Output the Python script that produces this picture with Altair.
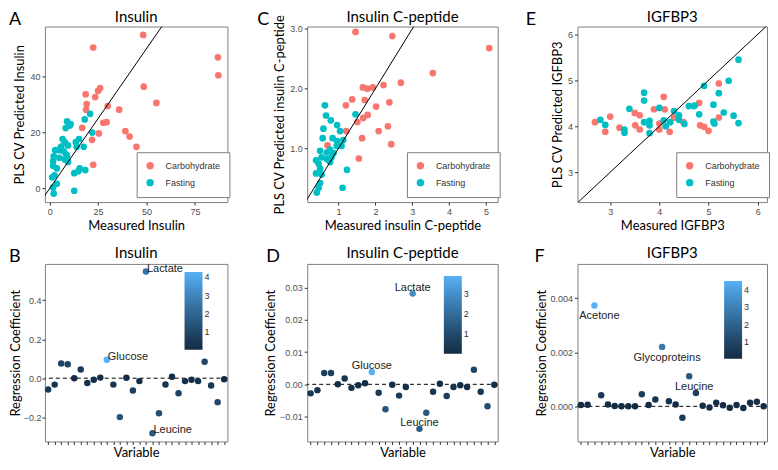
import altair as alt
import pandas as pd

SALMON = "#F8766D"
TEAL = "#00BFC4"

# ---------------- Panel A: Insulin ----------------
ax_carb = [22.5, 48.3, 86.9, 87.1, 48.6, 26.1, 25.0, 23.5, 18.6, 19.1, 18.8, 55.1,
           30.0, 35.9, 27.7, 29.4, 16.8, 39.1, 41.3, 25.4, 21.9, 44.8, 22.5, 5.5]
ay_carb = [50.4, 54.9, 46.9, 40.5, 36.4, 35.9, 34.9, 32.7, 33.7, 30.2, 28.2, 30.6,
           29.5, 28.2, 23.5, 23.7, 21.7, 20.5, 18.6, 19.7, 17.4, 14.9, 8.5, 14.5]
ax_fast = [9.0, 8.3, 10.3, 10.8, 18.1, 20.9, 22.0, 6.7, 7.8, 9.5, 5.1, 2.9, 7.3, 8.6,
           2.1, 1.8, 1.8, 3.7, 7.8, 9.0, 13.5, 13.9, 17.6, 15.2, 15.5, 18.4, 12.7, 14.8,
           2.5, 1.3, 3.7, 1.8, 2.1, 12.7, 6.0, 5.0, 9.5]
ay_fast = [24.0, 21.6, 22.5, 23.0, 24.7, 26.7, 20.0, 17.7, 16.6, 15.4, 13.7, 13.7, 13.3,
           12.1, 11.5, 9.8, 8.1, 7.2, 10.4, 11.5, 16.6, 14.9, 14.9, 17.7, 7.2, 6.6, 5.5,
           6.2, 4.7, 4.0, 1.7, 0.4, -1.8, -0.8, 15.0, 11.0, 9.5]

# ---------------- Panel C: Insulin C-peptide ----------------
cx_carb = [1.46, 2.46, 5.09, 3.56, 2.69, 2.22, 1.66, 1.78, 1.93, 1.37, 1.71, 1.20,
           2.02, 2.38, 1.79, 1.67, 1.51, 1.21, 2.09, 2.34, 1.64, 2.43, 1.55, 0.70]
cy_carb = [2.95, 2.88, 2.68, 2.26, 2.10, 2.06, 2.02, 2.00, 2.02, 1.82, 1.81, 1.72,
           1.70, 1.77, 1.56, 1.51, 1.44, 1.29, 1.29, 1.37, 1.17, 1.07, 0.83, 1.05]
cx_fast = [0.63, 0.66, 0.79, 1.46, 0.59, 0.96, 1.04, 0.57, 0.84, 0.96, 1.13, 1.08, 0.77,
           0.68, 0.50, 0.54, 0.39, 0.46, 0.68, 0.81, 0.86, 0.50, 0.39, 0.54, 0.50, 0.46,
           0.41, 1.23, 1.11, 0.77, 0.95]
cy_fast = [1.72, 1.55, 1.47, 1.57, 1.33, 1.39, 1.29, 1.17, 1.17, 1.12, 1.14, 1.04, 0.98,
           0.93, 0.96, 0.85, 0.80, 0.74, 0.82, 0.85, 0.92, 0.66, 0.58, 0.56, 0.42, 0.34,
           0.26, 0.64, 0.34, 0.77, 1.04]

# ---------------- Panel E: IGFBP3 ----------------
ex_carb = [2.69, 2.90, 3.00, 3.19, 3.50, 3.60, 3.51, 3.60, 3.89, 4.00, 4.09, 4.11,
           4.00, 4.21, 4.30, 4.49, 4.81, 4.83, 4.91, 5.00, 5.21, 5.21]
ey_carb = [4.09, 3.88, 4.21, 3.97, 4.29, 4.24, 4.02, 3.93, 4.37, 3.93, 4.64, 4.37,
           4.06, 3.88, 4.19, 4.09, 4.51, 4.02, 3.99, 3.90, 4.93, 4.19]
ex_fast = [2.80, 2.90, 3.39, 3.29, 3.29, 3.69, 3.69, 3.69, 3.80, 3.80, 3.80, 4.00, 4.09,
           4.13, 4.22, 4.30, 4.40, 4.40, 4.51, 4.60, 4.70, 4.72, 4.81, 4.91, 5.10, 5.10,
           5.12, 5.21, 5.41, 5.31, 5.51, 5.61, 5.61]
ey_fast = [4.14, 4.03, 4.38, 3.93, 3.86, 4.73, 4.56, 4.09, 4.12, 4.02, 3.85, 4.40, 4.13,
           4.00, 4.09, 4.33, 4.24, 4.14, 4.05, 4.44, 4.44, 4.45, 4.26, 4.88, 4.47, 4.10,
           4.06, 4.72, 4.99, 4.30, 4.23, 5.45, 4.07]

# ---------------- Regression coefficient panels ----------------
variables = ["V1", "V2", "Acetone", "V4", "V5", "V6", "V7", "V8", "V9", "Glucose",
             "V11", "V12", "Glycoproteins", "V14", "V15", "Lactate", "Leucine", "V18",
             "V19", "V20", "V21", "V22", "V23", "V24", "V25", "V26", "V27", "V28"]

b_coef = [-0.058, -0.033, 0.075, 0.072, 0.0, 0.045, -0.025, -0.008, 0.003, 0.095,
          -0.033, -0.2, 0.002, -0.063, -0.015, 0.548, -0.283, -0.18, -0.032, 0.007,
          -0.077, -0.015, -0.008, -0.015, 0.085, -0.038, -0.123, -0.005]
b_vip = [0.6, 0.4, 0.9, 0.9, 0.1, 0.6, 0.3, 0.2, 0.1, 4.3, 0.4, 1.4, 0.1, 0.8, 0.2,
         2.4, 1.6, 1.3, 0.4, 0.1, 0.9, 0.2, 0.1, 0.2, 1.0, 0.5, 1.1, 0.05]
b_labels = ["Glucose", "Lactate", "Leucine"]

d_coef = [-0.0028, -0.0018, 0.0035, 0.0035, 0.0, 0.0018, -0.0011, -0.0003, 0.0003,
          0.0038, -0.0026, -0.0077, -0.0001, -0.0035, -0.0008, 0.0281, -0.0138, -0.0088,
          -0.0023, 0.0002, -0.0036, -0.0008, -0.0003, -0.0008, 0.0045, -0.0023, -0.0068,
          -0.0001]
d_vip = [0.5, 0.3, 0.7, 0.7, 0.05, 0.4, 0.2, 0.1, 0.1, 3.9, 0.5, 1.3, 0.1, 0.6, 0.2,
         2.9, 1.6, 1.4, 0.4, 0.1, 0.6, 0.2, 0.1, 0.2, 0.9, 0.4, 1.1, 0.1]
d_labels = ["Glucose", "Lactate", "Leucine"]

f_coef = [0.00005, 0.00006, 0.00373, 0.00041, 0.00007, 0.00001, 0.0, 0.0, 0.0, 0.00045,
          0.00005, 0.00025, 0.0022, 0.00019, 0.00007, -0.00042, 0.00111, 0.00049,
          0.00002, -0.00004, 0.00013, 0.00004, -0.00005, 0.00005, -0.00006, 0.00013,
          0.00017, 0.0]
f_vip = [0.1, 0.1, 4.5, 0.6, 0.1, 0.05, 0.05, 0.05, 0.05, 0.7, 0.1, 0.4, 2.7, 0.3, 0.1,
         0.7, 1.7, 0.8, 0.05, 0.1, 0.2, 0.1, 0.1, 0.1, 0.1, 0.2, 0.3, 0.05]
f_labels = ["Acetone", "Glycoproteins", "Leucine"]


def header_layers(title, letter, letter_dx, w, title_y):
    """Panel title (centred above the plot) and panel letter, as text marks."""
    ttl = alt.Chart(pd.DataFrame({"t": [title]})).mark_text(
        font="Lato", fontSize=15, align="center", baseline="alphabetic", color="black"
    ).encode(text="t:N", x=alt.value(w / 2), y=alt.value(title_y))
    let = alt.Chart(pd.DataFrame({"t": [letter]})).mark_text(
        font="Lato", fontSize=18, align="left", baseline="alphabetic", color="black"
    ).encode(text="t:N", x=alt.value(letter_dx), y=alt.value(-2))
    return [ttl, let]


def scatter(xc, yc, xf, yf, xdom, ydom, xticks, yticks, title, xtitle, ytitle,
            letter, letter_dx, w, h):
    df = pd.DataFrame({
        "x": xc + xf,
        "y": yc + yf,
        "group": ["Carbohydrate"] * len(xc) + ["Fasting"] * len(xf),
    })
    line = pd.DataFrame({"x": [-100.0, 100.0], "y": [-100.0, 100.0]})
    xs = alt.Scale(domain=xdom, nice=False, zero=False)
    ys = alt.Scale(domain=ydom, nice=False, zero=False)
    pts = alt.Chart(df).mark_circle(size=45, opacity=1).encode(
        x=alt.X("x:Q", scale=xs, axis=alt.Axis(values=xticks, title=xtitle)),
        y=alt.Y("y:Q", scale=ys, axis=alt.Axis(values=yticks, title=ytitle)),
        color=alt.Color(
            "group:N",
            scale=alt.Scale(domain=["Carbohydrate", "Fasting"], range=[SALMON, TEAL]),
            legend=alt.Legend(
                orient="none", legendX=w - 91, legendY=h - 50, title=None,
                strokeColor="#808080", fillColor="white", padding=9,
                symbolType="circle", symbolSize=55, symbolStrokeWidth=0,
                labelFont="Liberation Sans", labelFontSize=9, labelColor="#333333",
                rowPadding=7, labelOffset=11,
            ),
        ),
    )
    ln = alt.Chart(line).mark_line(color="black", strokeWidth=1, clip=True).encode(
        x="x:Q", y="y:Q"
    )
    return alt.layer(pts, ln, *header_layers(title, letter, letter_dx, w, -5)).properties(
        width=w, height=h
    )


def coefplot(coef, vip, labels, ydom, yticks, yfmt, title, letter, letter_dx, w, h,
             leg_vals, leg_x, leg_y, text_kw, pad):
    df = pd.DataFrame({"var": variables, "coef": coef, "vip": vip})
    xenc = alt.X("var:N", sort=variables,
                 scale=alt.Scale(type="point", padding=0.5),
                 axis=alt.Axis(labels=False, ticks=True, title="Variable",
                               titlePadding=2))
    yenc = alt.Y("coef:Q", scale=alt.Scale(domain=ydom, nice=False, zero=False),
                 axis=alt.Axis(values=yticks, format=yfmt,
                               title="Regression Coefficient",
                               labelPadding=pad, titlePadding=pad))
    zero = alt.Chart(pd.DataFrame({"z": [0]})).mark_rule(
        color="black", strokeWidth=1, strokeDash=[4, 3]
    ).encode(y=alt.datum(0))
    pts = alt.Chart(df).mark_circle(size=42, opacity=1).encode(
        x=xenc, y=yenc,
        color=alt.Color(
            "vip:Q",
            scale=alt.Scale(range=["#132B43", "#56B1F7"], interpolate="lab"),
            legend=alt.Legend(
                orient="none", legendX=leg_x, legendY=leg_y, title=None,
                direction="vertical", gradientLength=78, gradientThickness=18,
                values=leg_vals, labelFont="Liberation Sans", labelFontSize=9,
                labelColor="#333333", gradientStrokeWidth=0,
            ),
        ),
    )
    txt = alt.Chart(df).transform_filter(
        alt.FieldOneOfPredicate(field="var", oneOf=labels)
    ).mark_text(font="Liberation Sans", fontSize=11, color="#222222", **text_kw).encode(
        x=xenc, y=yenc, text="var:N"
    )
    return alt.layer(zero, pts, txt,
                     *header_layers(title, letter, letter_dx, w, -6)).properties(
        width=w, height=h
    )


W1, W2, W3 = 183, 191, 190
H1, H2 = 176, 178

A = scatter(ax_carb, ay_carb, ax_fast, ay_fast, [-2.45, 91.8], [-4.85, 57.9],
            [0, 25, 50, 75], [0, 20, 40], "Insulin", "Measured Insulin",
            "PLS CV Predicted Insulin", "A", -36, W1, H1)
C = scatter(cx_carb, cy_carb, cx_fast, cy_fast, [0.15, 5.32], [0.10, 3.04],
            [1, 2, 3, 4, 5], [1, 2, 3], "Insulin C-peptide",
            "Measured insulin C-peptide", "PLS CV Predicted insulin C-peptide",
            "C", -50, W2, H1)
E = scatter(ex_carb, ey_carb, ex_fast, ey_fast, [2.335, 6.19], [2.35, 6.17],
            [3, 4, 5, 6], [3, 4, 5, 6], "IGFBP3", "Measured IGFBP3",
            "PLS CV Predicted IGFBP3", "E", -52, W3, H1)

B = coefplot(b_coef, b_vip, b_labels, [-0.325, 0.587], [-0.2, 0.0, 0.2, 0.4], ".1f",
             "Insulin", "B", -36, W1, H2, [1, 2, 3, 4], W1 - 43, 8,
             dict(align="left", baseline="alphabetic", dx=1, dy=0), 1)
D = coefplot(d_coef, d_vip, d_labels, [-0.0177, 0.0373],
             [-0.01, 0.0, 0.01, 0.02, 0.03], ".2f", "Insulin C-peptide", "D", -41,
             W2, H2, [1, 2, 3], W2 - 54, 12,
             dict(align="center", baseline="alphabetic", dx=0, dy=-3), 2)
F = coefplot(f_coef, f_vip, f_labels, [-0.0013, 0.00527], [0.0, 0.002, 0.004], ".3f",
             "IGFBP3", "F", -43, W3, H2, [1, 2, 3, 4], W3 - 43, 17,
             dict(align="center", baseline="top", dx=5, dy=5), 2)

chart = alt.concat(
    A, C, E, B, D, F, columns=3, spacing={"row": 62, "column": 80}, bounds="flush"
).properties(padding=0).configure_view(
    stroke="#808080", strokeWidth=1, fill="white"
).configure_axis(
    domain=False, grid=False, tickColor="#333333", tickSize=3,
    labelFont="Liberation Sans", labelFontSize=9, labelColor="#4d4d4d",
    labelPadding=2, titleFont="Lato", titleFontSize=13, titleFontWeight="normal",
    titleColor="black", titlePadding=3,
)

chart.save("out.html", embed_options={"renderer": "svg", "actions": False})
